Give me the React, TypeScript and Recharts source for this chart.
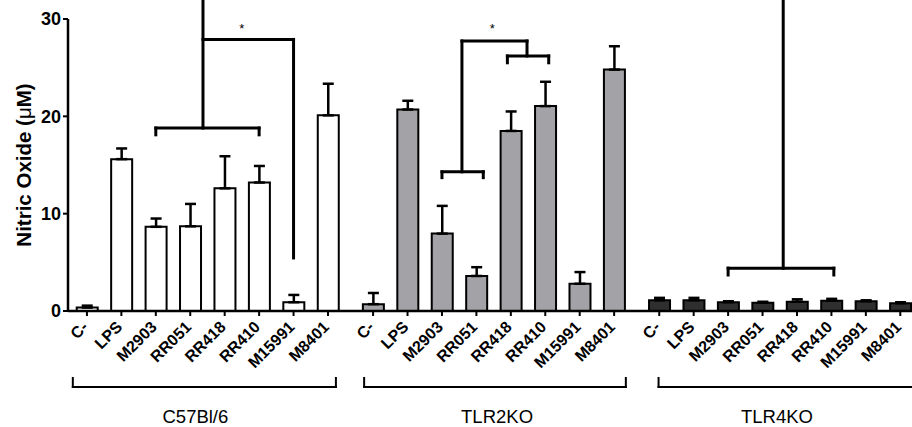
import { BarChart, Bar, XAxis, YAxis, ErrorBar, Cell, ReferenceLine, ReferenceDot } from 'recharts'

const FONT = '"Liberation Sans", Arial, Helvetica, sans-serif'

// Data (Nitric Oxide, µM)
const categories = ['C-', 'LPS', 'M2903', 'RR051', 'RR418', 'RR410', 'M15991', 'M8401']
const groups = ['C57Bl/6', 'TLR2KO', 'TLR4KO']

const c57Values = [0.35, 15.6, 8.65, 8.7, 12.6, 13.2, 0.9, 20.1]
const c57Errors = [0.2, 1.1, 0.85, 2.3, 3.3, 1.7, 0.75, 3.25]
const tlr2Values = [0.7, 20.7, 7.95, 3.6, 18.5, 21.05, 2.8, 24.8]
const tlr2Errors = [1.15, 0.9, 2.85, 0.9, 2.0, 2.5, 1.2, 2.4]
const tlr4Values = [1.1, 1.1, 0.9, 0.85, 0.95, 1.05, 1.0, 0.8]
const tlr4Errors = [0.25, 0.25, 0.1, 0.1, 0.25, 0.2, 0.1, 0.1]

const yTicks = [0, 10, 20, 30]

const groupValues = [c57Values, tlr2Values, tlr4Values]
const groupErrors = [c57Errors, tlr2Errors, tlr4Errors]
const groupFills = ['#ffffff', '#a3a3a7', '#2f2f2f']

// layout: distance between the first bars of neighbouring groups (in bar slots)
const GROUP_STEP = 8.31

const rows = groups.flatMap((g, gi) =>
    categories.map((c, i) => ({
        pos: gi * GROUP_STEP + i,
        label: c,
        group: gi,
        value: groupValues[gi][i],
        err: [0, groupErrors[gi][i]]
    }))
)

// significance annotations, x relative to group start, y in µM
// [group, from, to, y, drop]
const sigBrackets = [
    [0, 2, 5, 18.8, 0.7],
    [1, 2, 3.2, 14.3, 0.6],
    [1, 3.9, 5.1, 26.2, 0.7],
    [2, 2, 5.07, 4.4, 0.7]
]
// [group, x1, y1, x2, y2]
const sigLines = [
    [0, 3.37, 18.8, 3.37, 32],
    [0, 3.37, 27.9, 6, 27.9],
    [0, 6, 27.9, 6, 5.45],
    [1, 2.58, 14.3, 2.58, 27.74],
    [1, 2.58, 27.74, 4.47, 27.74],
    [1, 4.47, 27.74, 4.47, 26.2],
    [2, 3.6, 4.4, 3.6, 32]
]
// [group, x, y]
const stars = [
    [0, 4.5, 29.0],
    [1, 3.46, 29.0]
]

// group brackets under the axis: [from, to] relative to group start
const groupSpans = [
    [-0.41, 7.23],
    [-0.26, 7.34],
    [-0.02, 7.8]
]
const groupLabelPos = [3.15, 3.6, 3.42]
const GROUP_LINE_Y = -7.81
const GROUP_TICK_Y = -6.88
const GROUP_LABEL_Y = -10.8

type Seg = [number, number, number, number]

const segs: { seg: Seg; w: number }[] = []
sigBrackets.forEach(([g, a, b, y, d]) => {
    const o = g * GROUP_STEP
    segs.push({ seg: [o + a, y, o + b, y], w: 3 })
    segs.push({ seg: [o + a, y, o + a, y - d], w: 3 })
    segs.push({ seg: [o + b, y, o + b, y - d], w: 3 })
})
sigLines.forEach(([g, x1, y1, x2, y2]) => {
    const o = g * GROUP_STEP
    segs.push({ seg: [o + x1, y1, o + x2, y2], w: 3 })
})
groupSpans.forEach(([a, b], g) => {
    const o = g * GROUP_STEP
    segs.push({ seg: [o + a, GROUP_LINE_Y, o + b, GROUP_LINE_Y], w: 2 })
    segs.push({ seg: [o + a, GROUP_LINE_Y, o + a, GROUP_TICK_Y], w: 2 })
    segs.push({ seg: [o + b, GROUP_LINE_Y, o + b, GROUP_TICK_Y], w: 2 })
})

const AngledTick = ({ x, y, index }: any) => {
    const ax = x + 2
    const ay = y + 10
    return (
        <text
            x={ax}
            y={ay}
            transform={`rotate(-45, ${ax}, ${ay})`}
            textAnchor="end"
            fontSize={16}
            fontWeight="bold"
            fontFamily={FONT}
            fill="#000"
        >
            {rows[index] ? rows[index].label : ''}
        </text>
    )
}

const YLabel = ({ viewBox }: any) => {
    const cx = 23
    const cy = viewBox.y + viewBox.height / 2
    return (
        <text
            x={cx}
            y={cy}
            transform={`rotate(-90, ${cx}, ${cy})`}
            textAnchor="middle"
            dominantBaseline="central"
            fontSize={20.5}
            fontWeight="bold"
            fontFamily={FONT}
            fill="#000"
        >
            Nitric Oxide (<tspan fontWeight="normal">μ</tspan>M)
        </text>
    )
}

export default function App() {
    return (
        <div style={{ position: 'absolute', left: 0, top: 0, width: 912, height: 427, background: '#fff' }}>
            <BarChart
                width={912}
                height={427}
                data={rows}
                margin={{ top: 19, right: 0, left: 0, bottom: 0 }}
            >
                <XAxis
                    dataKey="pos"
                    type="number"
                    domain={[-0.55, 23.96]}
                    allowDataOverflow
                    ticks={rows.map((r) => r.pos)}
                    interval={0}
                    height={116}
                    tick={<AngledTick />}
                    tickSize={5}
                    axisLine={{ stroke: '#000', strokeWidth: 2.5 }}
                    tickLine={{ stroke: '#000', strokeWidth: 2 }}
                />
                <YAxis
                    type="number"
                    domain={[0, 30]}
                    ticks={yTicks}
                    width={68}
                    tickSize={5}
                    axisLine={{ stroke: '#000', strokeWidth: 2.5 }}
                    tickLine={{ stroke: '#000', strokeWidth: 2 }}
                    tick={{ fontSize: 18, fontWeight: 'bold', fill: '#000', fontFamily: FONT }}
                    label={{ content: <YLabel /> }}
                />
                <Bar dataKey="value" barSize={21} stroke="#000" strokeWidth={2} isAnimationActive={false}>
                    {rows.map((r, i) => (
                        <Cell key={i} fill={groupFills[r.group]} />
                    ))}
                    <ErrorBar
                        dataKey="err"
                        direction="y"
                        width={5.5}
                        stroke="#000"
                        strokeWidth={2.5}
                        isAnimationActive={false}
                    />
                </Bar>
                {segs.map((s, i) => (
                    <ReferenceLine
                        key={`seg${i}`}
                        segment={[
                            { x: s.seg[0], y: s.seg[1] },
                            { x: s.seg[2], y: s.seg[3] }
                        ]}
                        stroke="#000"
                        strokeWidth={s.w}
                        strokeLinecap="square"
                        ifOverflow="visible"
                    />
                ))}
                {stars.map(([g, x, y], i) => (
                    <ReferenceDot
                        key={`star${i}`}
                        x={g * GROUP_STEP + x}
                        y={y}
                        r={0}
                        stroke="none"
                        fill="none"
                        ifOverflow="visible"
                        label={{ value: '*', position: 'center', fontSize: 13, fill: '#000', fontFamily: FONT }}
                    />
                ))}
                {groups.map((g, i) => (
                    <ReferenceDot
                        key={`grp${i}`}
                        x={i * GROUP_STEP + groupLabelPos[i]}
                        y={GROUP_LABEL_Y}
                        r={0}
                        stroke="none"
                        fill="none"
                        ifOverflow="visible"
                        label={{ value: g, position: 'center', fontSize: 18.5, fill: '#000', fontFamily: FONT }}
                    />
                ))}
            </BarChart>
        </div>
    )
}
